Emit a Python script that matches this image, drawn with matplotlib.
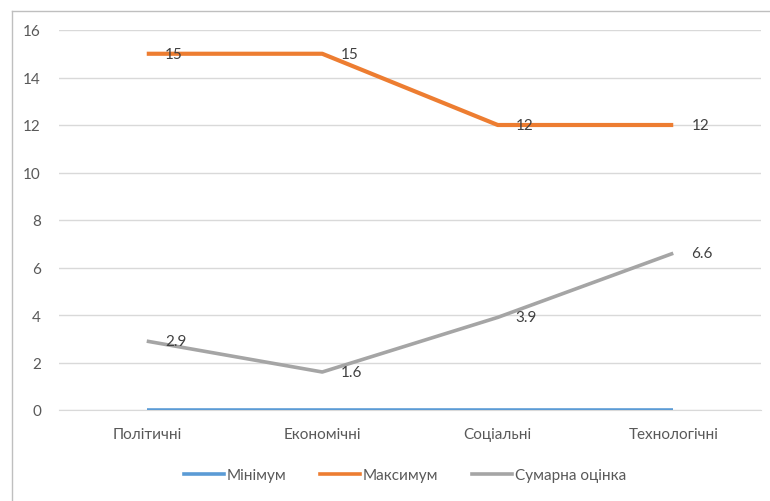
import matplotlib.pyplot as plt
from matplotlib.lines import Line2D

categories = ['Політичні', 'Економічні', 'Соціальні', 'Технологічні']
minimum = [0, 0, 0, 0]
maximum = [15, 15, 12, 12]
total = [2.9, 1.6, 3.9, 6.6]
y_ticks = [0, 2, 4, 6, 8, 10, 12, 14, 16]

plt.rcParams['font.family'] = ['Lato', 'DejaVu Sans']

BLUE = '#5B9BD5'
ORANGE = '#ED7D31'
GRAY = '#A5A5A5'
TEXT = '#595959'
FS = 11

fig = plt.figure(figsize=(7.7, 5.02), dpi=100)
ax = fig.add_axes([59 / 770, 1 - 411 / 502, 702 / 770, 380 / 502])

x = range(len(categories))
ax.plot(x, minimum, color=BLUE, linewidth=2.6, solid_capstyle='butt', zorder=3)
ax.plot(x, maximum, color=ORANGE, linewidth=3, solid_capstyle='butt', zorder=3)
ax.plot(x, total, color=GRAY, linewidth=2.6, solid_capstyle='butt', zorder=3)

# data labels to the right of each point
for series in (maximum, total):
    for xi, v in zip(x, series):
        ax.annotate(f'{v:g}', (xi, v), xytext=(13, 0), textcoords='offset points',
                    ha='left', va='center', fontsize=FS, color='#404040', zorder=4)

ax.set_xlim(-0.5, len(categories) - 0.5)
ax.set_ylim(0, 16)
ax.set_yticks(y_ticks)
ax.set_xticks(list(x))
ax.set_xticklabels(categories)
ax.tick_params(axis='both', length=0, labelsize=FS, labelcolor=TEXT)
ax.tick_params(axis='y', pad=13)
ax.tick_params(axis='x', pad=12)
ax.grid(axis='y', color='#D9D9D9', linewidth=1)
ax.set_axisbelow(True)
for s in ('top', 'right', 'left'):
    ax.spines[s].set_visible(False)
ax.spines['bottom'].set_color('#D9D9D9')

handles = [Line2D([], [], color=c, linewidth=2.6) for c in (BLUE, ORANGE, GRAY)]
fig.legend(handles, ['Мінімум', 'Максимум', 'Сумарна оцінка'], loc='center',
           bbox_to_anchor=(405 / 770, 1 - 476 / 502), ncol=3, frameon=False,
           fontsize=FS, labelcolor=TEXT, handlelength=2.6, handletextpad=0.2,
           columnspacing=2.2)

# chart frame
fig.add_artist(Line2D([12 / 770, 12 / 770], [0, 1 - 12 / 502], transform=fig.transFigure,
                      color='#BFBFBF', linewidth=1))
fig.add_artist(Line2D([12 / 770, 1], [1 - 12 / 502, 1 - 12 / 502], transform=fig.transFigure,
                      color='#BFBFBF', linewidth=1))

fig.savefig('out.png', dpi=100)
